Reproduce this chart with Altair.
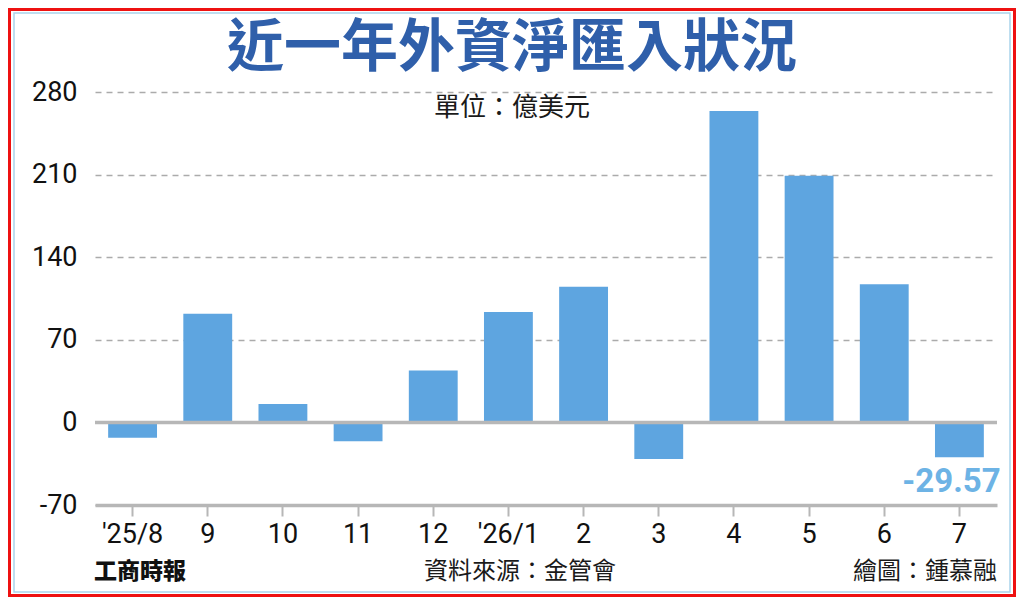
import altair as alt
import pandas as pd

# ---- data ----
months = ["'25/8", "9", "10", "11", "12", "'26/1", "2", "3", "4", "5", "6", "7"]
values = [-13, 92, 15.5, -16, 44, 93.5, 115, -31, 264, 209, 117, -29.57]
y_ticks = [-70, 0, 70, 140, 210, 280]

title_text = "近一年外資淨匯入狀況"
unit_text = "單位：億美元"
source_text = "資料來源：金管會"
credit_text = "繪圖：鍾慕融"
paper_text = "工商時報"

df = pd.DataFrame({"month": months, "value": values})
last_df = df.iloc[[-1]].copy()
last_df["txt"] = [f"{v:.2f}" for v in last_df["value"]]

# ---- layout (page = chart + 8px margin) ----
TOTAL_W, TOTAL_H = 1008, 589
PL, PT = 87, 84          # plot area offset inside the chart
W, H = 902, 413           # plot area
PR = TOTAL_W - PL - W
PB = TOTAL_H - PT - H

BAR = "#5EA5E0"
GRID = "#ABABAB"
AXIS = "#B7B7B7"
FONT = "Roboto"
CJK = "Noto Sans CJK TC"

x_enc = alt.X(
    "month:N",
    sort=None,
    scale=alt.Scale(paddingInner=0.35, paddingOuter=0.175),
    axis=alt.Axis(
        title=None,
        labelAngle=0,
        labelFont=FONT,
        labelFontSize=27,
        labelColor="#111111",
        labelPadding=5,
        domainColor=AXIS,
        domainWidth=3.5,
        tickColor=AXIS,
        tickWidth=2,
        tickSize=11,
        grid=False,
    ),
)

y_scale = alt.Scale(domain=[-70, 280], nice=False, zero=False)

bars = alt.Chart(df).mark_bar(color=BAR).encode(
    x=x_enc,
    y=alt.Y(
        "value:Q",
        scale=y_scale,
        axis=alt.Axis(
            title=None,
            values=y_ticks,
            labelExpr="'' + datum.value",
            labelFont=FONT,
            labelFontSize=27,
            labelColor="#111111",
            labelPadding=18,
            domain=False,
            ticks=False,
            grid=True,
            gridColor=GRID,
            gridDash=[6, 5],
            gridWidth=1.6,
        ),
    ),
)

zero_df = pd.DataFrame({"v": [0]})
zero_rule = alt.Chart(zero_df).mark_rule(color=AXIS, strokeWidth=3.5).encode(
    y=alt.Y("v:Q", scale=y_scale)
)

last_label = alt.Chart(last_df).mark_text(
    font=FONT, fontSize=33, fontWeight="bold", color="#6DB3E5",
    baseline="middle", align="center", dy=25, dx=-8
).encode(
    x=alt.X("month:N", sort=months),
    y=alt.Y("value:Q", scale=y_scale),
    text=alt.Text("txt:N"),
)

def label(txt, px, py, size, color="#1a1a1a", align="center", weight="normal", font=CJK):
    d = pd.DataFrame({"t": [txt]})
    return alt.Chart(d).mark_text(
        font=font, fontSize=size, color=color, align=align,
        baseline="middle", fontWeight=weight, clip=False
    ).encode(
        x=alt.value(px - 8 - PL),
        y=alt.value(py - 8 - PT),
        text="t:N",
    )

title = label(title_text, 512, 49, 57, color="#2F5FAA", weight="bold")
unit = label(unit_text, 512, 108, 26)
source = label(source_text, 520, 572, 24)
credit = label(credit_text, 997, 572, 24, align="right")
paper = label(paper_text, 94, 572, 23, color="#111111", align="left", weight=900)

frame_df = pd.DataFrame({"a": [0]})
red_frame = alt.Chart(frame_df).mark_rect(
    fillOpacity=0, stroke="#EE1111", strokeWidth=3, clip=False
).encode(
    x=alt.value(1.5 - PL), x2=alt.value(TOTAL_W - 1.5 - PL),
    y=alt.value(1.5 - PT), y2=alt.value(TOTAL_H - 1.5 - PT),
)
blue_frame = alt.Chart(frame_df).mark_rect(
    fillOpacity=0, stroke="#A9D3EC", strokeWidth=1.5, clip=False
).encode(
    x=alt.value(6 - PL), x2=alt.value(TOTAL_W - 6 - PL),
    y=alt.value(5 - PT), y2=alt.value(TOTAL_H - 5 - PT),
)

chart = alt.layer(
    bars, zero_rule, last_label, title, unit, source, credit, paper,
    red_frame, blue_frame
).properties(
    width=W, height=H,
    autosize=alt.AutoSizeParams(type="none"),
    padding={"left": PL, "top": PT, "right": PR, "bottom": PB},
    background="white",
).configure_view(stroke=None)

chart.save("out.html", embed_options={"renderer": "svg", "actions": False})
